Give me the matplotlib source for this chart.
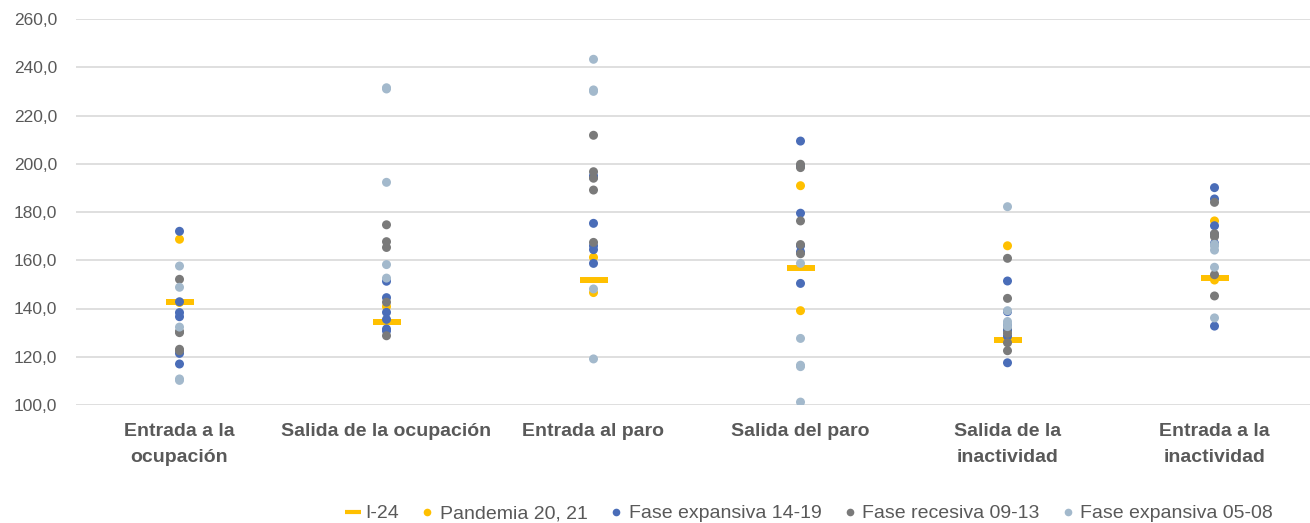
import matplotlib
matplotlib.use('Agg')
from matplotlib import pyplot as plt
from matplotlib.lines import Line2D

categories = ['Entrada a la\nocupación', 'Salida de la ocupación', 'Entrada al paro',
              'Salida del paro', 'Salida de la\ninactividad', 'Entrada a la\ninactividad']

i24 = [142.5, 134.5, 151.8, 156.9, 127.0, 152.6]

pandemia = [
    [168.7, 142.5],
    [140.8, 135.0],
    [161.2, 146.6],
    [190.9, 139.1],
    [166.0, 131.0],
    [176.3, 151.8],
]
exp_14_19 = [
    [172.0, 142.8, 138.3, 136.6, 121.4, 117.0],
    [151.3, 144.5, 138.4, 135.5, 130.7, 131.5],
    [194.3, 175.3, 166.0, 164.4, 158.7, 195.0],
    [209.4, 179.5, 150.4, 166.0, 163.5, 199.0],
    [151.4, 138.7, 117.5, 133.0, 131.0, 128.5],
    [190.1, 185.4, 174.3, 170.8, 132.7, 167.0],
]
rec_09_13 = [
    [152.1, 130.0, 123.1, 122.5, 130.5],
    [174.7, 167.7, 165.3, 142.6, 128.7],
    [211.8, 196.7, 194.0, 189.1, 167.4],
    [199.8, 198.4, 176.3, 166.5, 162.7],
    [160.8, 144.2, 129.7, 125.8, 122.5],
    [184.0, 169.8, 154.0, 145.2, 171.0],
]
exp_05_08 = [
    [157.6, 148.8, 132.3, 110.8, 110.2],
    [231.5, 231.0, 192.3, 158.2, 152.6],
    [243.3, 230.6, 230.0, 148.1, 119.1],
    [158.7, 127.6, 116.5, 115.9, 101.2],
    [182.2, 139.1, 134.6, 133.8, 132.5],
    [166.6, 165.9, 164.2, 157.1, 136.1],
]

series = [
    ('Pandemia 20, 21', pandemia, '#FFC000'),
    ('Fase expansiva 14-19', exp_14_19, '#4A6DB8'),
    ('Fase recesiva 09-13', rec_09_13, '#7A7A7A'),
    ('Fase expansiva 05-08', exp_05_08, '#A3B9CC'),
]

plt.rcParams['font.family'] = ['Liberation Sans', 'DejaVu Sans']
text_col = '#595959'

fig = plt.figure(figsize=(13.1, 5.23), dpi=100)
ax = fig.add_axes([76 / 1310, 118 / 523, 1242 / 1310, 386 / 523])

ax.plot(range(len(i24)), i24, linestyle='none', marker='_', markersize=19.5,
        markeredgewidth=4.3, color='#FFC000', zorder=2)

for k, (name, vals, col) in enumerate(series):
    for i, v in enumerate(vals):
        ax.scatter([i] * len(v), v, s=42, color=col, edgecolors='none', zorder=3 + k)

ax.set_xlim(-0.5, 5.5)
ax.set_ylim(100, 260)
ax.set_yticks(range(100, 261, 20))
ax.set_yticklabels([('%.1f' % t).replace('.', ',') for t in range(100, 261, 20)])
ax.set_xticks(range(len(categories)))
ax.set_xticklabels(categories, fontweight='bold', fontsize=14, color=text_col, linespacing=1.68)
ax.tick_params(axis='y', labelsize=12.5, colors=text_col, length=0, pad=13.5)
ax.tick_params(axis='x', length=0, pad=13)
ax.grid(axis='y', color='#D9D9D9', linewidth=1.2)
ax.set_axisbelow(True)
for s in ax.spines.values():
    s.set_visible(False)

handles = [Line2D([], [], linestyle='none', marker='_', markersize=11, markeredgewidth=3,
                  color='#FFC000', label='I-24')]
for name, vals, col in series:
    handles.append(Line2D([], [], linestyle='none', marker='o', markersize=5.5,
                          markeredgewidth=0, color=col, label=name))
leg = fig.legend(handles=handles, loc='center', bbox_to_anchor=(0.618, 0.018), ncol=5,
                 frameon=False, fontsize=14, handlelength=0.7, handletextpad=0.3,
                 columnspacing=1.1, labelcolor=text_col, borderpad=0)

fig.savefig('out.png', dpi=100)
